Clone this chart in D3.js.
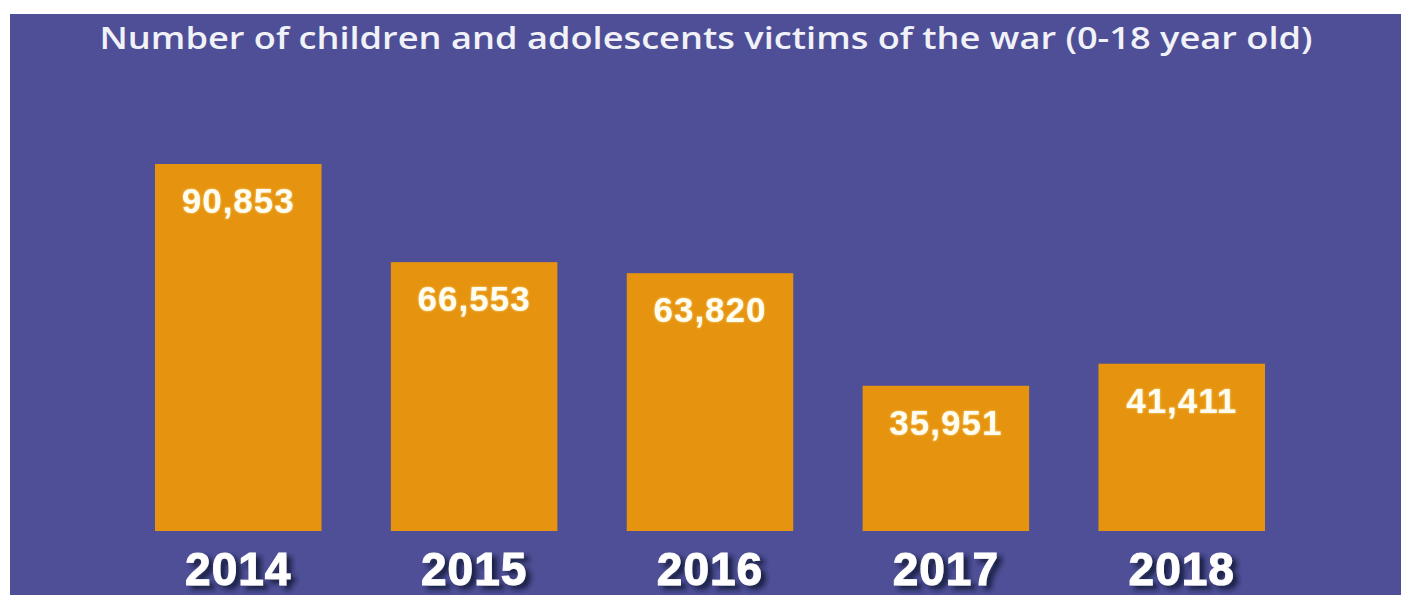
<!DOCTYPE html>
<html><head><meta charset="utf-8">
<script src="https://cdn.jsdelivr.net/npm/d3@7/dist/d3.min.js"></script>
<style>html,body{margin:0;padding:0;background:#fff;overflow:hidden}</style>
</head><body>
<svg id="chart" width="1401" height="595"></svg>
<script>
const title = "Number of children and adolescents victims of the war (0-18 year old)";
const years = ["2014", "2015", "2016", "2017", "2018"];
const victims = [90853, 66553, 63820, 35951, 41411];

const svg = d3.select("#chart");
const W = 1401, H = 595;

const defs = svg.append("defs");
const sh = defs.append("filter").attr("id", "yshadow").attr("x", "-20%").attr("y", "-30%").attr("width", "150%").attr("height", "180%");
sh.append("feGaussianBlur").attr("in", "SourceAlpha").attr("stdDeviation", 2.5).attr("result", "b");
sh.append("feOffset").attr("in", "b").attr("dx", 5).attr("dy", 4).attr("result", "o");
sh.append("feFlood").attr("flood-color", "#141a3a").attr("flood-opacity", 0.9);
sh.append("feComposite").attr("in2", "o").attr("operator", "in").attr("result", "s");
const m1 = sh.append("feMerge");
m1.append("feMergeNode").attr("in", "s");
m1.append("feMergeNode").attr("in", "SourceGraphic");

const glow = defs.append("filter").attr("id", "glow").attr("x", "-10%").attr("y", "-30%").attr("width", "120%").attr("height", "160%");
glow.append("feGaussianBlur").attr("in", "SourceAlpha").attr("stdDeviation", 1.2).attr("result", "b");
glow.append("feFlood").attr("flood-color", "#fff2a8").attr("flood-opacity", 0.8);
glow.append("feComposite").attr("in2", "b").attr("operator", "in").attr("result", "g");
const m2 = glow.append("feMerge");
m2.append("feMergeNode").attr("in", "g");
m2.append("feMergeNode").attr("in", "SourceGraphic");

// background panel
svg.append("rect").attr("x", 10).attr("y", 14).attr("width", W - 10).attr("height", H - 14).attr("fill", "#4e4f96");

// title
svg.append("text")
  .attr("x", 706).attr("y", 49)
  .attr("text-anchor", "middle")
  .attr("font-family", "'Open Sans', 'Liberation Sans', sans-serif")
  .attr("font-size", 31)
  .attr("font-weight", 600)
  .attr("fill", "#f1f1f8")
  .attr("textLength", 1213)
  .attr("lengthAdjust", "spacingAndGlyphs")
  .text(title);

const x = d3.scaleBand().domain(years).range([155, 1265]).paddingInner(0.294).paddingOuter(0);
const y = d3.scaleLinear().domain([0, 90853]).range([531, 164]);

const data = years.map((yr, i) => ({ year: yr, value: victims[i] }));

svg.append("g").selectAll("rect").data(data).join("rect")
  .attr("x", d => x(d.year))
  .attr("y", d => y(d.value))
  .attr("width", x.bandwidth())
  .attr("height", d => y(0) - y(d.value))
  .attr("fill", "#e6930f");

const fmt = d3.format(",");
svg.append("g").selectAll("text").data(data).join("text")
  .attr("x", d => x(d.year) + x.bandwidth() / 2)
  .attr("y", d => y(d.value) + 49)
  .attr("text-anchor", "middle")
  .attr("font-family", "'Liberation Sans', Arial, sans-serif")
  .attr("font-weight", "bold")
  .attr("font-size", 35)
  .attr("letter-spacing", 1)
  .attr("fill", "#fffdf2")
  .attr("filter", "url(#glow)")
  .text(d => fmt(d.value));

// year axis labels
const xAxis = d3.axisBottom(x).tickSize(0).tickPadding(0);
const ax = svg.append("g").attr("transform", "translate(0,531)").call(xAxis);
ax.select(".domain").remove();
ax.selectAll("text")
  .attr("dy", null)
  .attr("y", 54)
  .attr("font-family", "'Liberation Sans', Arial, sans-serif")
  .attr("font-weight", "bold")
  .attr("font-size", 46)
  .attr("letter-spacing", 1)
  .attr("stroke", "#ffffff")
  .attr("stroke-width", 1)
  .attr("fill", "#ffffff")
  .attr("filter", "url(#yshadow)");
</script>
</body></html>
